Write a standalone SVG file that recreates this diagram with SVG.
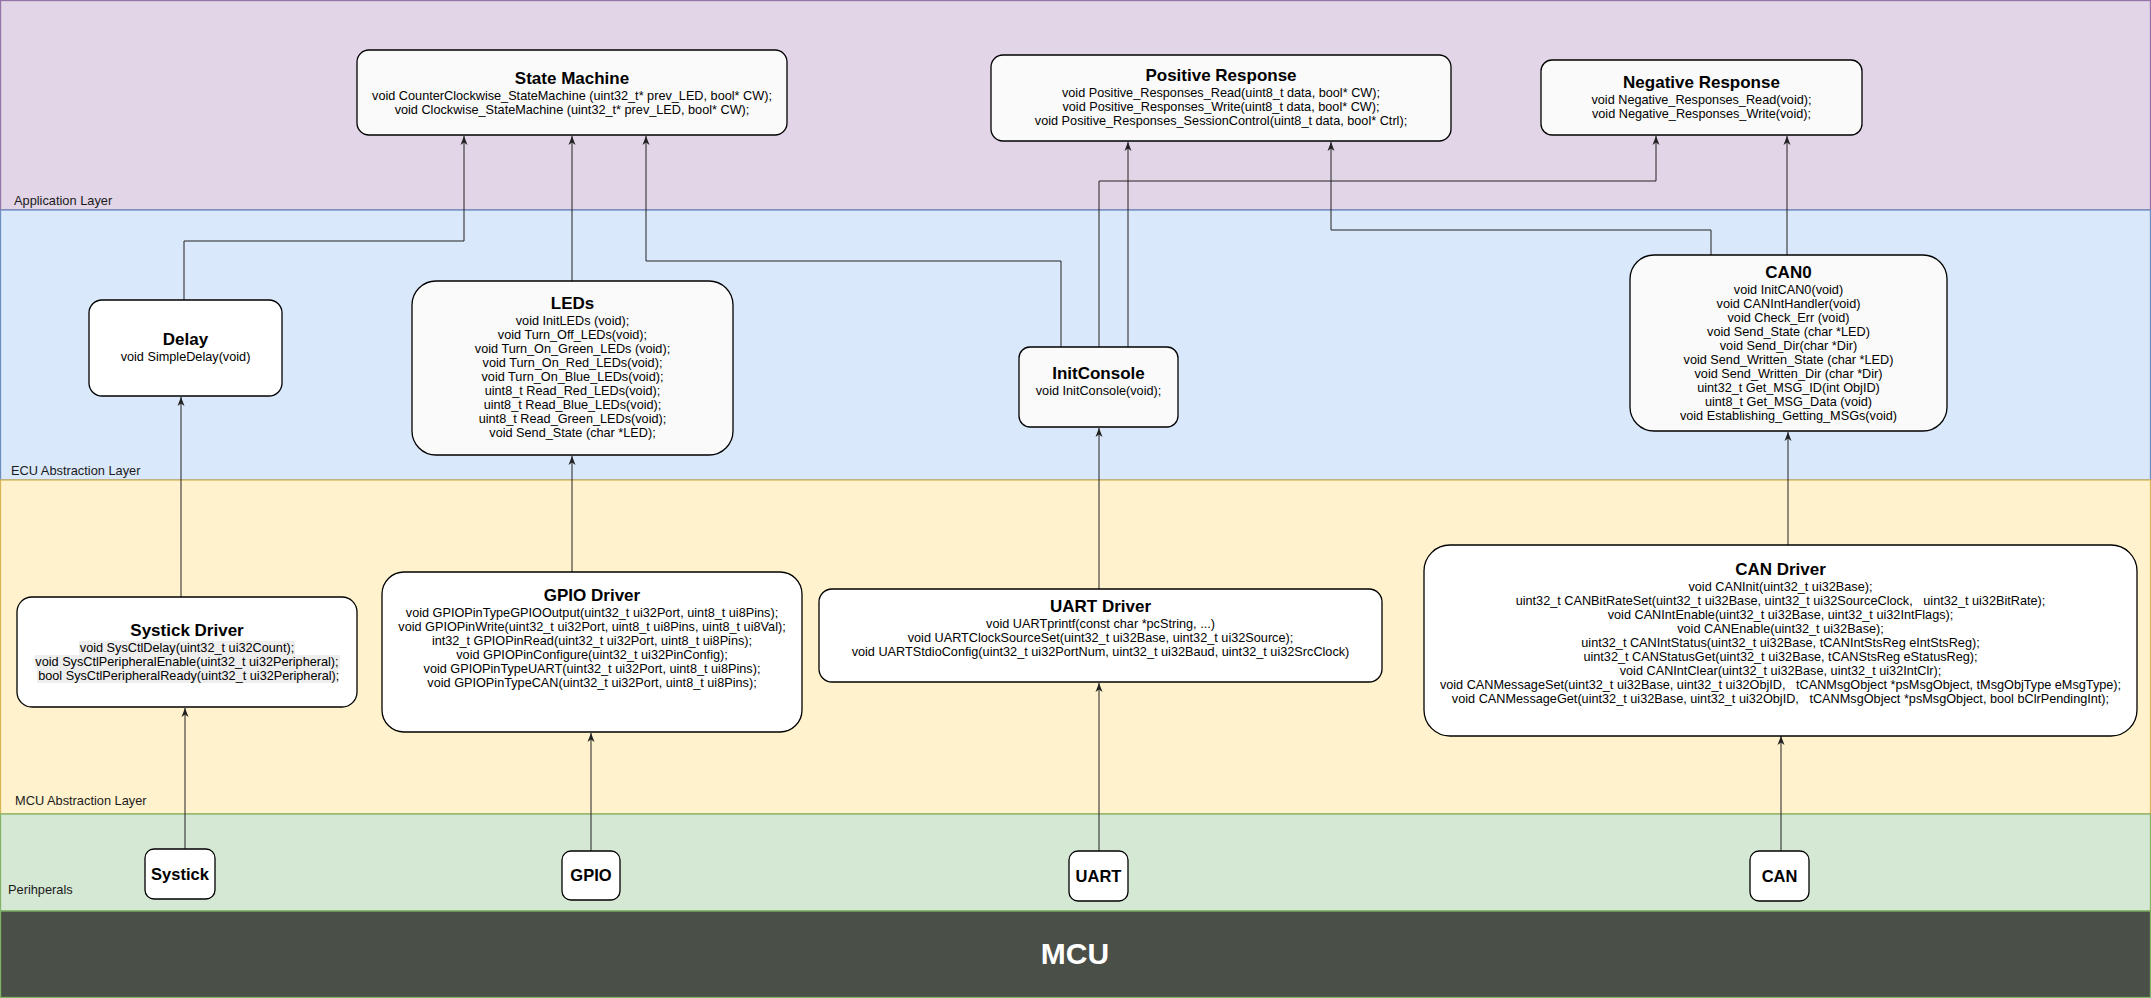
<svg xmlns="http://www.w3.org/2000/svg" width="2151" height="998" viewBox="0 0 2151 998">
<defs>
<style>
.lbl{font-family:"Liberation Sans",Arial,sans-serif;font-size:12.8px;fill:#1a1a1a}
.box{stroke:#000;stroke-width:1.3}
.t{font-family:"Liberation Sans",Arial,sans-serif;font-size:17px;font-weight:bold;fill:#000;text-anchor:middle}
.b{font-family:"Liberation Sans",Arial,sans-serif;font-size:12.7px;fill:#000;text-anchor:middle}
.p{font-family:"Liberation Sans",Arial,sans-serif;font-size:16.5px;font-weight:bold;fill:#000;text-anchor:middle}
.c{fill:none;stroke:#222;stroke-width:1}
.hl{fill:#eeeeee}
</style>
<marker id="arr" markerUnits="userSpaceOnUse" viewBox="0 0 10 8" refX="9" refY="4" markerWidth="10" markerHeight="8" orient="auto"><path d="M0,0.5 L9,4 L0,7.5 L2.5,4 z" fill="#222"/></marker>
</defs>

<g id="layers">
<rect x="0.5" y="0.5" width="2150" height="209.5" fill="#e1d5e7" stroke="#9673a6" stroke-width="1.3"/>
<rect x="0.5" y="210" width="2150" height="270" fill="#dae8fc" stroke="#6c8ebf" stroke-width="1.3"/>
<rect x="0.5" y="480" width="2150" height="334" fill="#fff2cc" stroke="#d6b656" stroke-width="1.3"/>
<rect x="0.5" y="814" width="2150" height="97" fill="#d5e8d4" stroke="#82b366" stroke-width="1.3"/>
<rect x="0.5" y="911" width="2150" height="86.5" fill="#4a4f48" stroke="#82b366" stroke-width="1.3"/>
<text class="lbl" x="14" y="205">Application Layer</text>
<text class="lbl" x="11" y="475">ECU Abstraction Layer</text>
<text class="lbl" x="15" y="805">MCU Abstraction Layer</text>
<text class="lbl" x="8" y="894">Perihperals</text>
<text x="1075" y="964" font-family="Liberation Sans, Arial, sans-serif" font-size="30" font-weight="bold" fill="#ffffff" text-anchor="middle">MCU</text>
</g>

<g id="connectors">
<path class="c" d="M185,849 V708" marker-end="url(#arr)"/>
<path class="c" d="M591,851 V733" marker-end="url(#arr)"/>
<path class="c" d="M1099,851 V683" marker-end="url(#arr)"/>
<path class="c" d="M1781,851 V736" marker-end="url(#arr)"/>
<path class="c" d="M181,597 V397" marker-end="url(#arr)"/>
<path class="c" d="M572,572 V456" marker-end="url(#arr)"/>
<path class="c" d="M1099,589 V428" marker-end="url(#arr)"/>
<path class="c" d="M1788,545 V432" marker-end="url(#arr)"/>
<path class="c" d="M184,300 V241 H464 V136" marker-end="url(#arr)"/>
<path class="c" d="M572,281 V136" marker-end="url(#arr)"/>
<path class="c" d="M1061,347 V261 H646 V136" marker-end="url(#arr)"/>
<path class="c" d="M1099,347 V181 H1656 V136" marker-end="url(#arr)"/>
<path class="c" d="M1128,347 V142" marker-end="url(#arr)"/>
<path class="c" d="M1711,255 V230 H1331 V142" marker-end="url(#arr)"/>
<path class="c" d="M1787,255 V136" marker-end="url(#arr)"/>
</g>

<g id="state-machine">
<rect class="box" x="357" y="50" width="430" height="85" rx="12" fill="#fafafa"/>
<text class="t" x="572" y="84">State Machine</text>
<text class="b"><tspan x="572" y="100">void CounterClockwise_StateMachine (uint32_t* prev_LED, bool* CW);</tspan><tspan x="572" y="114">void Clockwise_StateMachine (uint32_t* prev_LED, bool* CW);</tspan></text>
</g>

<g id="positive-response">
<rect class="box" x="991" y="55" width="460" height="86" rx="12" fill="#fafafa"/>
<text class="t" x="1221" y="81">Positive Response</text>
<text class="b"><tspan x="1221" y="97">void Positive_Responses_Read(uint8_t data, bool* CW);</tspan><tspan x="1221" y="111">void Positive_Responses_Write(uint8_t data, bool* CW);</tspan><tspan x="1221" y="125">void Positive_Responses_SessionControl(uint8_t data, bool* Ctrl);</tspan></text>
</g>

<g id="negative-response">
<rect class="box" x="1541" y="60" width="321" height="75" rx="11" fill="#fafafa"/>
<text class="t" x="1701.5" y="88">Negative Response</text>
<text class="b"><tspan x="1701.5" y="104">void Negative_Responses_Read(void);</tspan><tspan x="1701.5" y="118">void Negative_Responses_Write(void);</tspan></text>
</g>

<g id="delay">
<rect class="box" x="89" y="300" width="193" height="96" rx="13" fill="#ffffff"/>
<text class="t" x="185.5" y="345">Delay</text>
<text class="b" x="185.5" y="361">void SimpleDelay(void)</text>
</g>

<g id="leds">
<rect class="box" x="412" y="281" width="321" height="174" rx="24" fill="#fafafa"/>
<text class="t" x="572.5" y="309">LEDs</text>
<text class="b"><tspan x="572.5" y="325">void InitLEDs (void);</tspan><tspan x="572.5" y="339">void Turn_Off_LEDs(void);</tspan><tspan x="572.5" y="353">void Turn_On_Green_LEDs (void);</tspan><tspan x="572.5" y="367">void Turn_On_Red_LEDs(void);</tspan><tspan x="572.5" y="381">void Turn_On_Blue_LEDs(void);</tspan><tspan x="572.5" y="395">uint8_t Read_Red_LEDs(void);</tspan><tspan x="572.5" y="409">uint8_t Read_Blue_LEDs(void);</tspan><tspan x="572.5" y="423">uint8_t Read_Green_LEDs(void);</tspan><tspan x="572.5" y="437">void Send_State (char *LED);</tspan></text>
</g>

<g id="initconsole">
<rect class="box" x="1019" y="347" width="159" height="80" rx="11" fill="#fafafa"/>
<text class="t" x="1098.5" y="379">InitConsole</text>
<text class="b" x="1098.5" y="395">void InitConsole(void);</text>
</g>

<g id="can0">
<rect class="box" x="1630" y="255" width="317" height="176" rx="24" fill="#fafafa"/>
<text class="t" x="1788.5" y="278">CAN0</text>
<text class="b"><tspan x="1788.5" y="294">void InitCAN0(void)</tspan><tspan x="1788.5" y="308">void CANIntHandler(void)</tspan><tspan x="1788.5" y="322">void Check_Err (void)</tspan><tspan x="1788.5" y="336">void Send_State (char *LED)</tspan><tspan x="1788.5" y="350">void Send_Dir(char *Dir)</tspan><tspan x="1788.5" y="364">void Send_Written_State (char *LED)</tspan><tspan x="1788.5" y="378">void Send_Written_Dir (char *Dir)</tspan><tspan x="1788.5" y="392">uint32_t Get_MSG_ID(int ObjID)</tspan><tspan x="1788.5" y="406">uint8_t Get_MSG_Data (void)</tspan><tspan x="1788.5" y="420">void Establishing_Getting_MSGs(void)</tspan></text>
</g>

<g id="systick-driver">
<rect class="box" x="17" y="597" width="340" height="110" rx="15" fill="#ffffff"/>
<text class="t" x="187" y="636">Systick Driver</text>
<rect class="hl" x="79" y="641" width="216" height="14"/>
<rect class="hl" x="35" y="655" width="305" height="14"/>
<rect class="hl" x="37" y="669" width="301" height="14"/>
<text class="b" xml:space="preserve"><tspan x="187" y="652">void SysCtlDelay(uint32_t ui32Count);</tspan><tspan x="187" y="666">void SysCtlPeripheralEnable(uint32_t ui32Peripheral);</tspan><tspan x="187" y="680"> bool SysCtlPeripheralReady(uint32_t ui32Peripheral);</tspan></text>
</g>

<g id="gpio-driver">
<rect class="box" x="382" y="572" width="420" height="160" rx="22" fill="#ffffff"/>
<text class="t" x="592" y="601">GPIO Driver</text>
<text class="b"><tspan x="592" y="617">void GPIOPinTypeGPIOOutput(uint32_t ui32Port, uint8_t ui8Pins);</tspan><tspan x="592" y="631">void GPIOPinWrite(uint32_t ui32Port, uint8_t ui8Pins, uint8_t ui8Val);</tspan><tspan x="592" y="645">int32_t GPIOPinRead(uint32_t ui32Port, uint8_t ui8Pins);</tspan><tspan x="592" y="659">void GPIOPinConfigure(uint32_t ui32PinConfig);</tspan><tspan x="592" y="673">void GPIOPinTypeUART(uint32_t ui32Port, uint8_t ui8Pins);</tspan><tspan x="592" y="687">void GPIOPinTypeCAN(uint32_t ui32Port, uint8_t ui8Pins);</tspan></text>
</g>

<g id="uart-driver">
<rect class="box" x="819" y="589" width="563" height="93" rx="13" fill="#ffffff"/>
<text class="t" x="1100.5" y="612">UART Driver</text>
<text class="b"><tspan x="1100.5" y="628">void UARTprintf(const char *pcString, ...)</tspan><tspan x="1100.5" y="642">void UARTClockSourceSet(uint32_t ui32Base, uint32_t ui32Source);</tspan><tspan x="1100.5" y="656">void UARTStdioConfig(uint32_t ui32PortNum, uint32_t ui32Baud, uint32_t ui32SrcClock)</tspan></text>
</g>

<g id="can-driver">
<rect class="box" x="1424" y="545" width="713" height="191" rx="26" fill="#ffffff"/>
<text class="t" x="1780.5" y="575">CAN Driver</text>
<text class="b" xml:space="preserve"><tspan x="1780.5" y="591">void CANInit(uint32_t ui32Base);</tspan><tspan x="1780.5" y="605">uint32_t CANBitRateSet(uint32_t ui32Base, uint32_t ui32SourceClock,   uint32_t ui32BitRate);</tspan><tspan x="1780.5" y="619">void CANIntEnable(uint32_t ui32Base, uint32_t ui32IntFlags);</tspan><tspan x="1780.5" y="633">void CANEnable(uint32_t ui32Base);</tspan><tspan x="1780.5" y="647">uint32_t CANIntStatus(uint32_t ui32Base, tCANIntStsReg eIntStsReg);</tspan><tspan x="1780.5" y="661">uint32_t CANStatusGet(uint32_t ui32Base, tCANStsReg eStatusReg);</tspan><tspan x="1780.5" y="675">void CANIntClear(uint32_t ui32Base, uint32_t ui32IntClr);</tspan><tspan x="1780.5" y="689">void CANMessageSet(uint32_t ui32Base, uint32_t ui32ObjID,   tCANMsgObject *psMsgObject, tMsgObjType eMsgType);</tspan><tspan x="1780.5" y="703">void CANMessageGet(uint32_t ui32Base, uint32_t ui32ObjID,   tCANMsgObject *psMsgObject, bool bClrPendingInt);</tspan></text>
</g>

<g id="systick">
<rect class="box" x="145" y="849" width="70" height="50" rx="9" fill="#ffffff"/>
<text class="p" x="180" y="880">Systick</text>
</g>
<g id="gpio">
<rect class="box" x="562" y="851" width="58" height="49" rx="9" fill="#ffffff"/>
<text class="p" x="591" y="881">GPIO</text>
</g>
<g id="uart">
<rect class="box" x="1069" y="851" width="59" height="50" rx="9" fill="#ffffff"/>
<text class="p" x="1098.5" y="882">UART</text>
</g>
<g id="can">
<rect class="box" x="1750" y="851" width="59" height="50" rx="9" fill="#ffffff"/>
<text class="p" x="1779.5" y="882">CAN</text>
</g>
</svg>
